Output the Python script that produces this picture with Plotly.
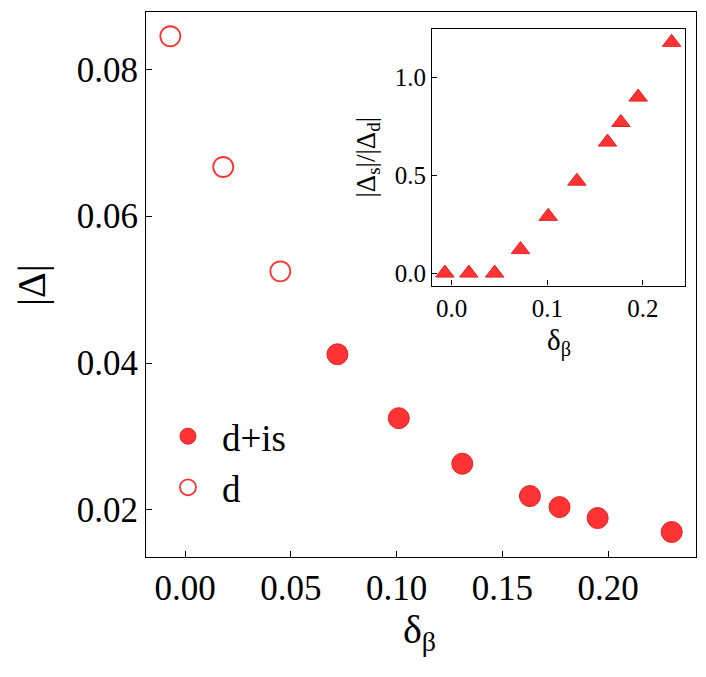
import plotly.graph_objects as go

# main panel: |Delta| vs delta_beta
x_d = [-0.007, 0.018, 0.045]
y_d = [0.0845, 0.0667, 0.0525]
x_dis = [0.072, 0.101, 0.131, 0.163, 0.177, 0.195, 0.230]
y_dis = [0.0412, 0.0325, 0.0263, 0.0219, 0.0204, 0.0189, 0.0170]

# inset: |Delta_s|/|Delta_d| vs delta_beta
x_ratio = [-0.007, 0.018, 0.045, 0.072, 0.101, 0.131, 0.163, 0.177, 0.195, 0.230]
y_ratio = [0.0, 0.0, 0.0, 0.12, 0.29, 0.47, 0.67, 0.77, 0.90, 1.18]

RED = "#ff3333"
EDGE = "#e52222"
FONT = "Liberation Serif"

fig = go.Figure()

fig.add_trace(go.Scatter(x=x_dis, y=y_dis, mode="markers", name="d+is",
    marker=dict(size=21, color=RED, line=dict(color=EDGE, width=1))))
fig.add_trace(go.Scatter(x=x_d, y=y_d, mode="markers", name="d",
    marker=dict(size=20, color="white", line=dict(color=RED, width=1.8))))
fig.add_trace(go.Scatter(x=x_ratio, y=y_ratio, mode="markers", showlegend=False,
    xaxis="x2", yaxis="y2",
    marker=dict(size=16, symbol="triangle-up", color=RED, line=dict(color=EDGE, width=1))))

axis_common = dict(showline=True, linecolor="black", linewidth=1.2, mirror=True,
    ticks="inside", tickcolor="black", showgrid=False, zeroline=False, automargin=False)

# axis titles as annotations so they sit where the original has them
def title(text, x, y, size, angle=0):
  fig.add_annotation(text=text, x=x, y=y, xref="paper", yref="paper", showarrow=False,
      xanchor="center", yanchor="middle", textangle=angle, font=dict(family=FONT, size=size))

title("δ<sub>β</sub>", 0.497, -0.1376, 40)
title("|Δ|", -0.209, 0.499, 40, -90)
title("δ<sub>β</sub>", 0.75, 0.393, 29)
title("|Δ<sub>s</sub>|/|Δ<sub>d</sub>|", 0.402, 0.733, 27, -90)

# page body adds an 8px margin, so the figure is a bit smaller than the window
fig.update_layout(
    width=690, height=661,
    margin=dict(l=138, r=2, t=4, b=112, autoexpand=False),
    plot_bgcolor="white", paper_bgcolor="white",
    font=dict(family=FONT, color="black"),
    xaxis=dict(range=[-0.0185, 0.2415], tickvals=[0, 0.05, 0.1, 0.15, 0.2],
        ticktext=["0.00", "0.05", "0.10", "0.15", "0.20"], ticklen=6,
        tickfont=dict(family=FONT, size=35), **axis_common),
    yaxis=dict(range=[0.0136, 0.0878], tickvals=[0.02, 0.04, 0.06, 0.08],
        ticktext=["0.02", "0.04", "0.06", "0.08"], ticklen=6,
        tickfont=dict(family=FONT, size=35), **axis_common),
    xaxis2=dict(domain=[0.52, 0.98], anchor="y2", range=[-0.0205, 0.244],
        tickvals=[0, 0.1, 0.2], ticktext=["0.0", "0.1", "0.2"], ticklen=5,
        tickfont=dict(family=FONT, size=25), **axis_common),
    yaxis2=dict(domain=[0.498, 0.968], anchor="x2", range=[-0.064, 1.246],
        tickvals=[0, 0.5, 1.0], ticktext=["0.0", "0.5", "1.0"], ticklen=5,
        tickfont=dict(family=FONT, size=25), **axis_common),
    legend=dict(x=0.0145, y=0.174, xanchor="left", yanchor="middle", bgcolor="rgba(0,0,0,0)",
        font=dict(family=FONT, size=37), itemsizing="trace", itemwidth=58, tracegroupgap=0),
)

fig.write_html("out.html")
